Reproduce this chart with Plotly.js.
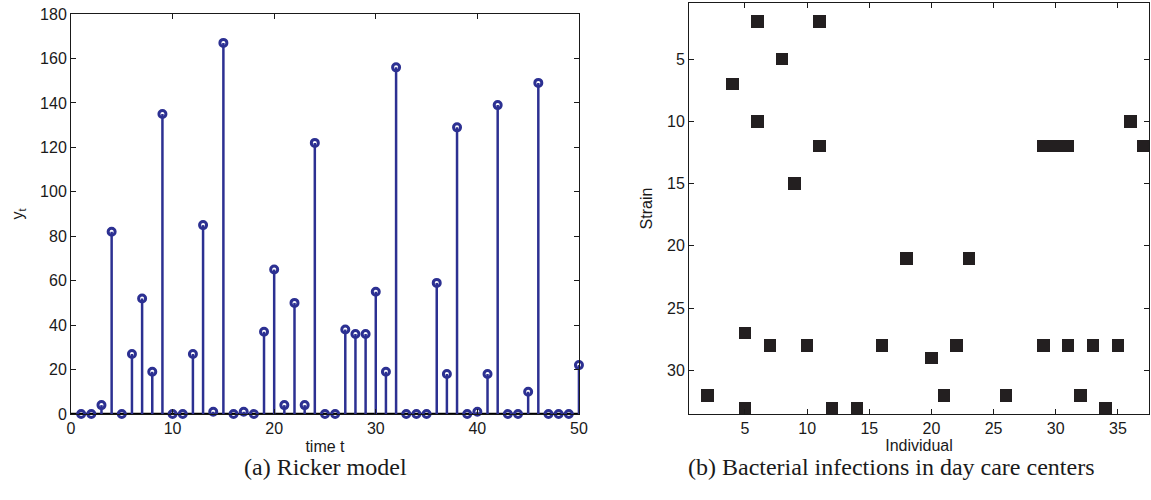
<!DOCTYPE html>
<html>
<head>
<meta charset="utf-8">
<script src="https://cdn.plot.ly/plotly-3.0.1.min.js"></script>
<style>html,body{margin:0;padding:0;background:#fff;}#chart{width:1151px;height:500px;}</style>
</head>
<body>
<div id="chart"></div>
<script>
// ---- Data: (a) Ricker model ----
const time = [1,2,3,4,5,6,7,8,9,10,11,12,13,14,15,16,17,18,19,20,21,22,23,24,25,26,27,28,29,30,31,32,33,34,35,36,37,38,39,40,41,42,43,44,45,46,47,48,49,50];
const yt = [0,0,4,82,0,27,52,19,135,0,0,27,85,1,167,0,1,0,37,65,4,50,4,122,0,0,38,36,36,55,19,156,0,0,0,59,18,129,0,1,18,139,0,0,10,149,0,0,0,22];
const timeRange = [0, 50];
const ytRange = [0, 180];

// ---- Data: (b) Bacterial infections ----
const individual = [2,4,5,5,6,6,7,8,9,10,11,11,12,14,16,18,20,21,22,23,26,29,29,30,31,31,32,33,34,35,36,37];
const strain     = [32,7,27,33,2,10,28,5,15,28,2,12,33,33,28,21,29,32,28,21,32,12,28,12,12,28,32,28,33,28,10,12];
const nIndividuals = 37;
const nStrains = 33;

// stems
const stemX = [], stemY = [];
time.forEach((t, i) => { stemX.push(t, t, null); stemY.push(0, yt[i], null); });

const indAxis = Array.from({length: nIndividuals}, (_, i) => i + 1);
const strAxis = Array.from({length: nStrains}, (_, i) => i + 1);
const z = strAxis.map(() => indAxis.map(() => null));
individual.forEach((ind, k) => { z[strain[k] - 1][ind - 1] = 1; });

const blue = '#2c3092';
const ink = '#1a1a1a';
const tickFont = {family: 'Liberation Sans, Arial, sans-serif', size: 16, color: ink};

const traces = [
  {x: timeRange, y: [0, 0], mode: 'lines', line: {color: '#000', width: 2.5}, xaxis: 'x', yaxis: 'y', hoverinfo: 'skip', showlegend: false, cliponaxis: false},
  {x: stemX, y: stemY, mode: 'lines', line: {color: blue, width: 2.5}, xaxis: 'x', yaxis: 'y', showlegend: false, cliponaxis: false},
  {x: time, y: yt, mode: 'markers', marker: {symbol: 'circle-open', size: 7, color: blue, line: {color: blue, width: 3}}, xaxis: 'x', yaxis: 'y', showlegend: false, cliponaxis: false},
  {type: 'heatmap', x: indAxis, y: strAxis, z: z, zmin: 0, zmax: 1, colorscale: [[0, '#231f20'], [1, '#231f20']], showscale: false, xaxis: 'x2', yaxis: 'y2', hoverongaps: false, xgap: 0, ygap: 0}
];

const axBase = {showline: true, linecolor: ink, linewidth: 1, mirror: 'ticks', ticks: 'inside', ticklen: 5, tickcolor: ink, tickwidth: 1, showgrid: false, zeroline: false, tickfont: tickFont, automargin: false};

const layout = {
  width: 1151, height: 500,
  margin: {l: 71, r: 2, t: 3, b: 86},
  paper_bgcolor: '#fff', plot_bgcolor: '#fff',
  showlegend: false,
  xaxis: Object.assign({}, axBase, {domain: [0, 0.4712], range: timeRange, tick0: 0, dtick: 10, anchor: 'y',
    title: {text: 'time t', font: {family: tickFont.family, size: 16, color: ink}, standoff: 4}}),
  yaxis: Object.assign({}, axBase, {domain: [0, 0.9732], range: ytRange, tick0: 0, dtick: 20, anchor: 'x',
    title: {text: 'y<sub>t</sub>', font: {family: tickFont.family, size: 16, color: ink}, standoff: 12}}),
  xaxis2: Object.assign({}, axBase, {domain: [0.5733, 1.0], range: [0.5, nIndividuals + 0.5], tick0: 0, dtick: 5, anchor: 'y2',
    title: {text: 'Individual', font: {family: tickFont.family, size: 16, color: ink}, standoff: 2}}),
  yaxis2: Object.assign({}, axBase, {domain: [0, 1.0], range: [nStrains + 0.5, 0.5], tick0: 0, dtick: 5, anchor: 'x2',
    title: {text: 'Strain', font: {family: tickFont.family, size: 16, color: ink}, standoff: 10}}),
  annotations: [
    {text: '(a) Ricker model', xref: 'paper', yref: 'paper', x: 0.2365, y: -0.129, xanchor: 'center', yanchor: 'middle', showarrow: false,
     font: {family: 'Liberation Serif, Times New Roman, serif', size: 24, color: ink}},
    {text: '(b) Bacterial infections in day care centers', xref: 'paper', yref: 'paper', x: 0.7607, y: -0.129, xanchor: 'center', yanchor: 'middle', showarrow: false,
     font: {family: 'Liberation Serif, Times New Roman, serif', size: 24, color: ink}}
  ]
};

Plotly.newPlot('chart', traces, layout, {staticPlot: true, displayModeBar: false});
</script>
</body>
</html>
